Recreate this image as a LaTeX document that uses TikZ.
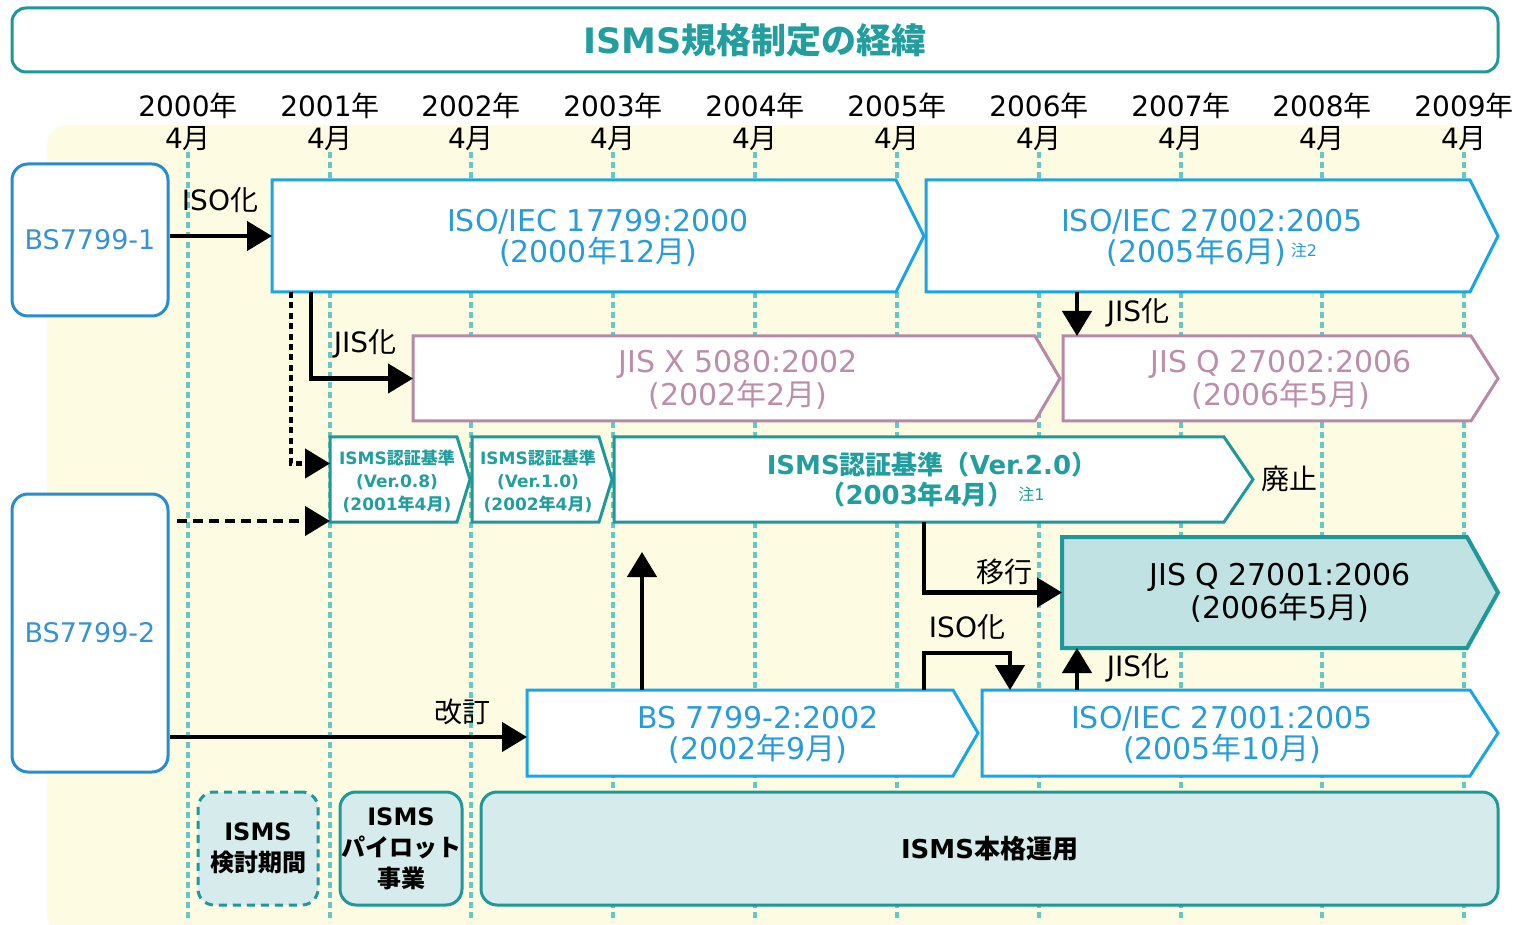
\documentclass[tikz,border=0pt]{standalone}
\usepackage{fontspec}
\setmainfont{DejaVu Sans}
\newfontfamily\cjk{Noto Sans CJK JP}
\newcommand\J[1]{{\cjk #1}}
\usetikzlibrary{arrows.meta,calc,fit}
\definecolor{tealc}{RGB}{30,152,152}
\definecolor{tealtxt}{RGB}{35,158,158}
\definecolor{gridc}{RGB}{98,200,200}
\definecolor{bgyellow}{RGB}{253,251,226}
\definecolor{bsblue}{RGB}{40,140,205}
\definecolor{bstxt}{RGB}{55,145,210}
\definecolor{isoblue}{RGB}{25,165,230}
\definecolor{isotxt}{RGB}{40,155,220}
\definecolor{mauve}{RGB}{182,137,167}
\definecolor{mauvetxt}{RGB}{188,142,172}
\definecolor{ltealfill}{RGB}{192,226,226}
\definecolor{boxfill}{RGB}{214,235,235}
\newcommand\chev[7]{%
  \node[fit={(#2,#3)(#4,#6)}, inner sep=0pt, outer sep=0pt] (#1) {};
  \draw[#7] (#1.north west) -- (#1.north east) -- (#5,{(#3+#6)/2}) -- (#1.south east) -- (#1.south west) -- cycle;}
\begin{document}
\begin{tikzpicture}[x=0.5pt,y=-0.5pt,
  isobox/.style={draw=isoblue, fill=white, line width=1.5pt},
  jisbox/.style={draw=mauve, fill=white, line width=1.5pt},
  ismsbox/.style={draw=tealc, fill=white, line width=1.5pt},
  jisqbox/.style={draw=tealc, fill=ltealfill, line width=2pt},
  isotext/.style={align=center, text=isotxt, font=\fontsize{15}{15.5}\selectfont},
  jistext/.style={align=center, text=mauvetxt, font=\fontsize{15}{15.5}\selectfont},
  smalltext/.style={align=center, text=tealtxt, font=\fontsize{8.5}{11.5}\selectfont\bfseries},
  vtwotext/.style={align=center, text=tealtxt, font=\fontsize{13}{15}\selectfont\bfseries},
  jisqtext/.style={align=center, text=black, font=\fontsize{15}{15}\selectfont},
  bsbox/.style={draw=bsblue, fill=white, line width=1.5pt, rounded corners=8pt, text=bstxt, font=\fontsize{13.5}{15}\selectfont, minimum width=78pt, inner sep=0pt},
  botbox/.style={draw=tealc, fill=boxfill, line width=1.5pt, rounded corners=8pt, minimum height=56.5pt, align=center, font=\fontsize{12}{15.5}\selectfont\bfseries, inner sep=0pt},
  gridline/.style={draw=gridc, line width=2pt, dash pattern=on 3pt off 2pt},
  conn/.style={draw=black, line width=2.2pt, -{Triangle[length=12.5pt,width=14.5pt]}},
  lbl/.style={font=\fontsize{14}{15}\selectfont, text=black, inner sep=0pt},
  yearlbl/.style={font=\fontsize{14}{15}\selectfont, text=black, inner sep=0pt}]
\useasboundingbox (0,0) rectangle (1522,925);
% background
\fill[bgyellow, rounded corners=10pt] (47,125) rectangle (1468,935);
% title
\node[draw=tealc, line width=1.5pt, rounded corners=7pt, fill=white, minimum width=743pt, minimum height=32pt, inner sep=0pt,
  text=tealtxt, font=\fontsize{17.5}{18}\selectfont\bfseries] (title) at (755,40) {ISMS\J{規格制定の経緯}};
% years & grid
\foreach \x/\yr in {188/2000,330/2001,471/2002,613/2003,755/2004,897/2005,1039/2006,1181/2007,1322/2008,1464/2009}{
  \node[yearlbl] (y\yr) at (\x,106) {\yr\J{年}};
  \node[yearlbl] (m\yr) at (\x,139) {4\J{月}};
  \draw[gridline] (\x,152) -- (\x,922);
}
% BS boxes
\node[bsbox, minimum height=76pt] (bs1) at (90,240) {BS7799-1};
\node[bsbox, minimum height=139pt] (bs2) at (90,633) {BS7799-2};
% chevrons
\chev{iso17799}{272}{180}{896}{924}{292}{isobox}
\chev{iso27002}{926}{180}{1470}{1498}{292}{isobox}
\chev{jis5080}{413}{336}{1035}{1060}{421}{jisbox}
\chev{jisq27002}{1063}{336}{1471}{1498}{421}{jisbox}
\chev{v08}{330}{437}{457}{470}{522}{ismsbox}
\chev{v10}{472}{437}{599}{612}{522}{ismsbox}
\chev{v20}{614}{437}{1224}{1253}{522}{ismsbox}
\chev{jisq27001}{1062}{537}{1467}{1498}{648}{jisqbox}
\chev{bs7799}{527}{690}{953}{978}{776}{isobox}
\chev{iso27001}{982}{690}{1470}{1498}{776}{isobox}
% chevron texts
\node[isotext] (t1) at (598,238) {ISO/IEC 17799:2000\\(2000\J{年}12\J{月})};
\node[isotext] (t2) at (1212,238) {ISO/IEC 27002:2005\\(2005\J{年}6\J{月})\,\raisebox{3pt}{\fontsize{8}{8}\selectfont\J{注}2}};
\node[jistext] (t3) at (738,380) {JIS X 5080:2002\\(2002\J{年}2\J{月})};
\node[jistext] (t4) at (1281,380) {JIS Q 27002:2006\\(2006\J{年}5\J{月})};
\node[smalltext] (t5) at (397,481) {ISMS\J{認証基準}\\(Ver.0.8)\\(2001\J{年}4\J{月})};
\node[smalltext] (t6) at (538,481) {ISMS\J{認証基準}\\(Ver.1.0)\\(2002\J{年}4\J{月})};
\node[vtwotext] (t7) at (932,480) {ISMS\J{認証基準（}Ver.2.0\J{）}\\\J{（}2003\J{年}4\J{月）}\,\raisebox{2pt}{\mdseries\fontsize{8}{8}\selectfont\J{注}1}};
\node[jisqtext] (t8) at (1280,593) {JIS Q 27001:2006\\(2006\J{年}5\J{月})};
\node[isotext] (t9) at (758,735) {BS 7799-2:2002\\(2002\J{年}9\J{月})};
\node[isotext] (t10) at (1222,735) {ISO/IEC 27001:2005\\(2005\J{年}10\J{月})};
% bottom boxes
\node[botbox, dashed, dash pattern=on 4pt off 3pt, minimum width=60pt] (kentou) at (258,848.5) {ISMS\\\J{検討期間}};
\node[botbox, minimum width=61pt] (pilot) at (401,848.5) {ISMS\\\J{パイロット}\\\J{事業}};
\node[botbox, minimum width=508.5pt, font=\fontsize{13}{15}\selectfont\bfseries] (honkaku) at (989.5,848.5) {ISMS\J{本格運用}};
% connectors
\draw[conn] (bs1.east |- iso17799.west) -- (iso17799.west);
\node[lbl] (l1) at (220,200) {ISO\J{化}};
\draw[conn] ($(iso17799.south west)+(39,0)$) |- (jis5080.west);
\node[lbl] (l2) at (365,344) {JIS\J{化}};
\draw[conn, dash pattern=on 3pt off 2.2pt] ($(iso17799.south west)+(19,0)$) |- ($(v08.west)+(0,-16)$);
\coordinate (d2) at ($(v08.south west)+(0,-1)$);
\draw[conn, dash pattern=on 5pt off 3pt] ($(bs2.east |- d2)+(7,0)$) -- (d2);
\coordinate (rev) at ($(bs7799.west)+(0,4)$);
\draw[conn] (bs2.east |- rev) -- (rev);
\node[lbl] (l3) at (462,712) {\J{改訂}};
\coordinate (upend) at ($(v20.south west)+(28,30)$);
\draw[conn] (bs7799.north west -| upend) -- (upend);
\draw[conn] ($(v20.south west)+(310,0)$) |- (jisq27001.west);
\node[lbl] (l4) at (1004,572) {\J{移行}};
\draw[conn] ($(bs7799.north west)+(397,0)$) -- ++(0,-37) -| ($(iso27001.north west)+(28,0)$);
\node[lbl] (l5) at (967,627) {ISO\J{化}};
\coordinate (a9) at ($(iso27001.north west)+(95,0)$);
\draw[conn] (a9) -- (a9 |- jisq27001.south);
\node[lbl] (l6) at (1138,668) {JIS\J{化}};
\coordinate (a10) at ($(iso27002.south west)+(151,0)$);
\draw[conn] (a10) -- (a10 |- jisq27002.north);
\node[lbl] (l7) at (1138,313) {JIS\J{化}};
\node[lbl] (l8) at (1289,479) {\J{廃止}};
\end{tikzpicture}
\end{document}
